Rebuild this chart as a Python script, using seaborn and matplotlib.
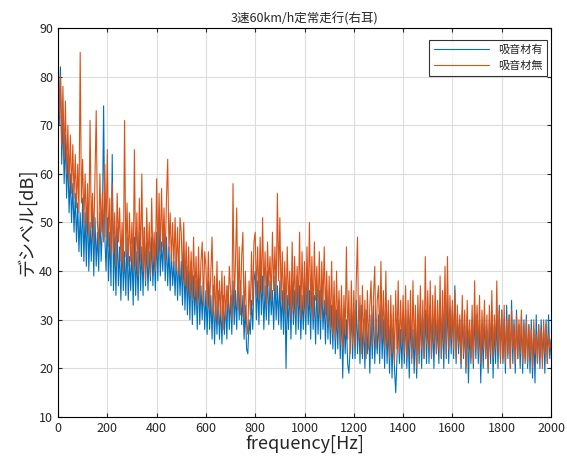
import numpy as np
import pandas as pd
import matplotlib
matplotlib.use("Agg")
import matplotlib.pyplot as plt
import seaborn as sns

# frequency axis, 5 Hz steps (0 .. 2000 Hz)
freq = list(range(0, 2001, 5))

# 吸音材無 (orange)
level_without = [
    88, 72, 80, 66, 78, 63, 75, 60, 70, 58, 68, 56, 66, 55, 64, 53, 62, 52, 85, 54,
    63, 50, 60, 48, 58, 47, 71, 49, 56, 46, 59, 73, 50, 45, 60, 48, 56, 46, 62, 47,
    65, 45, 55, 43, 58, 44, 52, 41, 56, 46, 53, 42, 50, 40, 71, 43, 54, 41, 52, 42,
    50, 40, 65, 41, 52, 39, 55, 42, 60, 40, 49, 38, 53, 41, 50, 39, 55, 42, 48, 40,
    59, 43, 56, 44, 57, 45, 53, 42, 55, 63, 44, 52, 42, 50, 41, 51, 40, 49, 39, 51,
    48, 38, 50, 37, 46, 36, 45, 35, 44, 34, 47, 35, 43, 33, 45, 34, 42, 46, 33, 44,
    41, 33, 44, 32, 40, 47, 31, 39, 30, 42, 29, 38, 31, 40, 28, 39, 30, 37, 32, 41,
    36, 30, 58, 33, 42, 53, 32, 45, 31, 43, 48, 30, 40, 29, 27, 38, 31, 44, 33, 46,
    48, 35, 45, 34, 47, 36, 51, 35, 44, 33, 46, 37, 43, 34, 48, 36, 45, 35, 56, 38,
    51, 34, 44, 32, 42, 31, 45, 33, 40, 30, 46, 32, 43, 31, 41, 33, 48, 30, 44, 32,
    42, 31, 45, 33, 50, 32, 43, 30, 46, 34, 41, 31, 44, 30, 42, 33, 45, 31, 40, 29,
    39, 28, 42, 27, 38, 26, 40, 28, 36, 25, 37, 24, 35, 27, 45, 26, 36, 23, 38, 25,
    36, 24, 38, 47, 26, 35, 23, 37, 25, 34, 22, 36, 24, 33, 38, 25, 35, 41, 24, 34,
    37, 25, 42, 26, 36, 24, 40, 25, 34, 22, 35, 23, 33, 21, 36, 24, 38, 23, 34, 25,
    35, 23, 37, 22, 34, 25, 36, 21, 38, 24, 33, 20, 35, 23, 37, 24, 34, 22, 43, 25,
    36, 24, 38, 22, 35, 25, 37, 23, 34, 24, 39, 22, 36, 25, 41, 23, 43, 24, 35, 26,
    34, 24, 36, 22, 33, 25, 31, 21, 35, 23, 32, 20, 34, 24, 30, 22, 33, 21, 38, 24,
    33, 23, 35, 21, 32, 24, 34, 22, 31, 20, 33, 23, 36, 22, 31, 24, 38, 23, 32, 21,
    32, 22, 33, 21, 30, 23, 31, 20, 32, 24, 29, 21, 31, 22, 30, 23, 32, 21, 29, 22,
    30, 21, 29, 22, 28, 20, 30, 23, 27, 21, 29, 22, 28, 20, 30, 23, 29, 21, 27, 24,
    25,
]

# 吸音材有 (blue)
level_with = [
    80, 70, 82, 62, 72, 58, 68, 55, 64, 52, 60, 50, 58, 48, 56, 46, 54, 44, 52, 43,
    55, 42, 52, 41, 54, 40, 50, 42, 53, 39, 51, 41, 48, 40, 52, 42, 49, 74, 47, 40,
    51, 38, 48, 37, 64, 36, 47, 35, 49, 37, 45, 34, 46, 36, 44, 35, 47, 34, 43, 36,
    45, 33, 47, 35, 44, 34, 48, 36, 45, 35, 49, 37, 46, 36, 44, 38, 47, 37, 45, 36,
    48, 38, 50, 39, 46, 40, 49, 38, 47, 37, 45, 36, 44, 37, 42, 35, 44, 34, 43, 35,
    42, 33, 44, 32, 41, 31, 40, 30, 42, 29, 39, 31, 38, 28, 40, 29, 37, 30, 38, 28,
    36, 27, 38, 28, 35, 26, 37, 25, 34, 27, 36, 26, 33, 25, 35, 27, 34, 26, 37, 28,
    35, 27, 38, 29, 36, 28, 40, 30, 38, 29, 35, 26, 33, 24, 23, 30, 27, 34, 28, 38,
    40, 30, 38, 29, 41, 31, 39, 28, 37, 30, 40, 29, 38, 31, 36, 28, 39, 30, 37, 29,
    38, 28, 36, 27, 39, 20, 35, 28, 37, 26, 38, 29, 36, 27, 39, 28, 37, 26, 35, 28,
    37, 27, 39, 29, 36, 26, 38, 28, 35, 25, 37, 27, 36, 26, 38, 28, 34, 25, 36, 26,
    34, 25, 33, 24, 35, 23, 32, 24, 34, 22, 33, 18, 31, 23, 30, 21, 19, 24, 32, 22,
    32, 22, 34, 23, 31, 21, 33, 22, 30, 20, 32, 23, 29, 19, 31, 22, 33, 21, 30, 23,
    31, 21, 33, 22, 30, 20, 32, 21, 29, 19, 31, 18, 28, 20, 15, 22, 30, 21, 28, 20,
    30, 21, 32, 20, 29, 18, 31, 22, 28, 19, 30, 18, 31, 21, 33, 20, 30, 22, 32, 21,
    31, 21, 33, 22, 30, 20, 32, 23, 29, 21, 34, 22, 31, 20, 33, 22, 35, 21, 32, 23,
    33, 22, 37, 21, 31, 23, 30, 20, 32, 22, 29, 19, 31, 17, 28, 21, 30, 20, 32, 22,
    31, 21, 30, 17, 29, 20, 31, 22, 28, 19, 30, 21, 32, 18, 29, 21, 31, 20, 33, 22,
    32, 21, 30, 19, 33, 22, 31, 20, 34, 21, 30, 19, 32, 22, 29, 20, 31, 19, 30, 21,
    31, 20, 29, 19, 30, 18, 28, 17, 31, 21, 29, 20, 30, 22, 28, 19, 30, 21, 31, 22,
    26,
]

series_names = ["吸音材有", "吸音材無"]
series_colors = ["#0072BD", "#D95319"]

df = pd.concat([
    pd.DataFrame({"freq": freq, "level": level_with, "series": series_names[0]}),
    pd.DataFrame({"freq": freq, "level": level_without, "series": series_names[1]}),
])

sns.set_style("ticks")
plt.rcParams["font.family"] = ["Noto Sans CJK JP", "DejaVu Sans"]

fig = plt.figure(figsize=(5.67, 4.62), dpi=100)
ax = fig.add_axes([0.1023, 0.0974, 0.8695, 0.842])

sns.lineplot(data=df, x="freq", y="level", hue="series",
             palette=dict(zip(series_names, series_colors)),
             linewidth=0.8, ax=ax)

ax.set_xlim(0, 2000)
ax.set_ylim(10, 90)
ax.set_xticks(range(0, 2001, 200))
ax.set_yticks(range(10, 91, 10))
ax.grid(True, color="#dcdcdc", linewidth=0.8)
ax.tick_params(direction="in", top=True, right=True, labelsize=9, length=3)
for s in ax.spines.values():
    s.set_color("black")
    s.set_linewidth(0.8)

ax.set_title("3速60km/h定常走行(右耳)", fontsize=9, pad=4)
ax.set_xlabel("frequency[Hz]", fontsize=13, labelpad=0)
ax.set_ylabel("デシベル[dB]", fontsize=13, labelpad=2)

leg = ax.legend(loc="upper right", bbox_to_anchor=(0.992, 0.969),
                borderaxespad=0, fontsize=8, frameon=True, fancybox=False,
                handlelength=5)
leg.get_frame().set_edgecolor("black")
leg.get_frame().set_linewidth(0.8)
leg.set_title(None)

fig.savefig("out.png", dpi=100)
